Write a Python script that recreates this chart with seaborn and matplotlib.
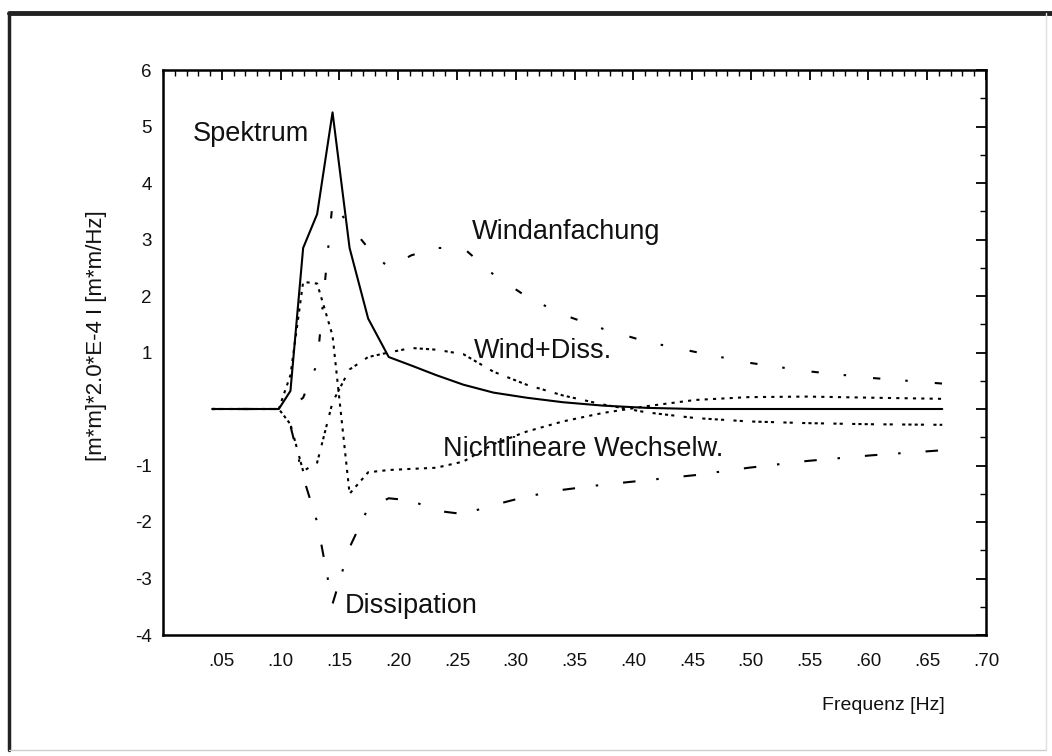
import matplotlib
matplotlib.use("Agg")
import matplotlib.pyplot as plt
import seaborn as sns
from matplotlib.ticker import FixedLocator, MultipleLocator
from matplotlib.lines import Line2D

# ---- data ----
freq = [0.0418, 0.0460, 0.0506, 0.0556, 0.0612, 0.0673, 0.0740, 0.0814, 0.0896, 0.0985,
        0.1084, 0.1192, 0.1311, 0.1442, 0.1587, 0.1745, 0.1920, 0.2112, 0.2323, 0.2555,
        0.2811, 0.3092, 0.3401, 0.3741, 0.4115, 0.4527, 0.4980, 0.5477, 0.6025, 0.6628]

spektrum = [0, 0, 0, 0, 0, 0, 0, 0, 0, 0,
            0.32, 2.85, 3.45, 5.25, 2.85, 1.6, 0.92, 0.77, 0.6, 0.43,
            0.29, 0.2, 0.12, 0.06, 0.02, 0.0, 0.0, 0.0, 0.0, 0.0]

windanfachung = [0, 0, 0, 0, 0, 0, 0, 0, 0, 0,
                 0.03, 0.2, 0.8, 3.65, 3.25, 2.85, 2.5, 2.72, 2.85, 2.85,
                 2.38, 1.99, 1.67, 1.42, 1.19, 1.01, 0.82, 0.67, 0.55, 0.45]

wind_diss = [0, 0, 0, 0, 0, 0, 0, 0, 0, 0,
             -0.27, -1.1, -0.95, 0.12, 0.7, 0.92, 1.0, 1.08, 1.05, 0.97,
             0.66, 0.43, 0.24, 0.08, -0.06, -0.16, -0.22, -0.25, -0.27, -0.28]

nichtlinear = [0, 0, 0, 0, 0, 0, 0, 0, 0, 0,
               0.6, 2.25, 2.22, 1.3, -1.5, -1.12, -1.08, -1.06, -1.04, -0.93,
               -0.62, -0.4, -0.22, -0.07, 0.05, 0.16, 0.21, 0.22, 0.2, 0.18]

dissipation = [0, 0, 0, 0, 0, 0, 0, 0, 0, 0,
               -0.3, -1.2, -2.0, -3.45, -2.45, -1.75, -1.58, -1.62, -1.8, -1.86,
               -1.7, -1.55, -1.43, -1.34, -1.26, -1.17, -1.04, -0.92, -0.82, -0.73]

xtick_values = [0.05, 0.10, 0.15, 0.20, 0.25, 0.30, 0.35, 0.40, 0.45, 0.50, 0.55, 0.60, 0.65, 0.70]
xtick_labels = [".05", ".10", ".15", ".20", ".25", ".30", ".35", ".40", ".45", ".50", ".55", ".60", ".65", ".70"]
ytick_values = [-4, -3, -2, -1, 0, 1, 2, 3, 4, 5, 6]
ytick_labels = ["-4", "-3", "-2", "-1", "", "1", "2", "3", "4", "5", "6"]

labels = ["Spektrum", "Windanfachung", "Wind+Diss.", "Nichtlineare Wechselw.", "Dissipation"]
label_pos = [(0.0256, 4.74), (0.263, 3.01), (0.264, 0.90), (0.2385, -0.83), (0.155, -3.61)]

# ---- style ----
sns.set_theme(style="white")
plt.rcParams['font.family'] = ['Liberation Sans', 'DejaVu Sans']

fig = plt.figure(figsize=(10.52, 7.56), dpi=100)
ax = fig.add_axes([163 / 1052, 1 - 635 / 756, (986 - 163) / 1052, (635 - 70) / 756])

styles = [
    (spektrum, '-'),
    (windanfachung, (0, (1.2, 13, 3.5, 12))),
    (wind_diss, (0, (1.5, 1.5, 1.5, 4.5, 1.5, 1.5, 1.5, 1.5, 1.5, 1.5, 1.5, 4.5))),
    (nichtlinear, (0, (1.5, 2.5))),
    (dissipation, (0, (1.2, 12, 6, 10))),
]
for vals, ls in styles:
    sns.lineplot(x=freq, y=vals, ax=ax, color='black', linewidth=1.5,
                 estimator=None, sort=False, linestyle=ls)
    ax.lines[-1].set_linestyle(ls)

ax.set_xlim(0, 0.70)
ax.set_ylim(-4, 6)

ax.xaxis.set_major_locator(FixedLocator(xtick_values))
ax.set_xticklabels(xtick_labels)
ax.xaxis.set_minor_locator(MultipleLocator(0.01))
ax.yaxis.set_major_locator(FixedLocator(ytick_values))
ax.set_yticklabels(ytick_labels)
ax.yaxis.set_minor_locator(MultipleLocator(0.5))

ax.tick_params(which='major', direction='in', top=True, right=True, length=7, width=1.3,
               color='black', labelsize=13.5, labelcolor='#111111')
ax.tick_params(which='minor', direction='in', top=True, right=True, length=4, width=1.0,
               color='black')
ax.tick_params(axis='x', which='major', pad=13)
ax.tick_params(axis='y', which='major', pad=8)

for s in ax.spines.values():
    s.set_color('black')
    s.set_linewidth(1.8)

ax.set_ylabel("[m*m]*2.0*E-4 I [m*m/Hz]", fontsize=16, color='#111111')
ax.yaxis.set_label_coords(-0.068, 0.529)
ax.set_xlabel("Frequenz [Hz]", fontsize=14, color='#111111', ha='right', va='center')
ax.xaxis.set_label_coords(0.95, -0.124)

for txt, (tx, ty) in zip(labels, label_pos):
    ax.text(tx, ty, txt, fontsize=19.5, ha='left', va='baseline', color='#111111')

# page frame
fig.add_artist(Line2D([9 / 1052, 1.0], [1 - 13 / 756, 1 - 13 / 756], transform=fig.transFigure,
                      color='#222222', linewidth=3.5))
fig.add_artist(Line2D([9 / 1052, 9 / 1052], [1 - 13 / 756, 1 - 750 / 756], transform=fig.transFigure,
                      color='#222222', linewidth=2.5))
fig.add_artist(Line2D([9 / 1052, 1046 / 1052], [1 - 750 / 756, 1 - 750 / 756], transform=fig.transFigure,
                      color='#cccccc', linewidth=1.0))
fig.add_artist(Line2D([1046 / 1052, 1046 / 1052], [1 - 13 / 756, 1 - 750 / 756], transform=fig.transFigure,
                      color='#e0e0e0', linewidth=1.0))

fig.savefig("out.png", dpi=100)
